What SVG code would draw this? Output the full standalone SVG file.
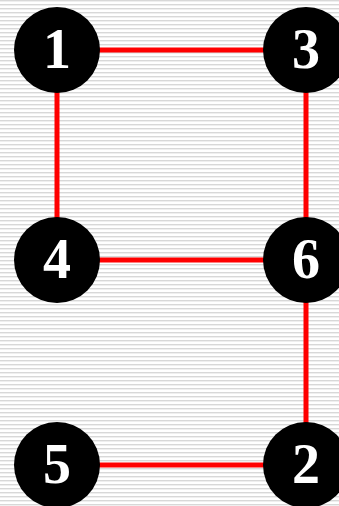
<svg xmlns="http://www.w3.org/2000/svg" width="339" height="506" viewBox="0 0 339 506">
<style>
.edge{stroke:#ff0000;stroke-width:5;fill:none}
.node circle{fill:#000}
.node text{fill:#fff;font-family:"Liberation Serif","Times New Roman",serif;font-weight:bold;font-size:56px;text-anchor:middle}
</style>
<defs>
<pattern id="stripes" width="8" height="4" patternUnits="userSpaceOnUse">
<rect width="8" height="4" fill="#ffffff"/>
<rect y="0" width="8" height="1" fill="#d8d8d8"/>
<rect y="1" width="8" height="1" fill="#efefef"/>
</pattern>
</defs>
<rect width="339" height="506" fill="url(#stripes)"/>
<g id="connectors">
<line class="edge" x1="57" y1="50" x2="306" y2="50"/>
<line class="edge" x1="57" y1="50" x2="57" y2="260"/>
<line class="edge" x1="306" y1="50" x2="306" y2="260"/>
<line class="edge" x1="57" y1="260" x2="306" y2="260"/>
<line class="edge" x1="306" y1="260" x2="306" y2="465"/>
<line class="edge" x1="57" y1="465" x2="306" y2="465"/>
</g>
<g id="node1" class="node"><circle cx="57" cy="50" r="43"/><text x="57" y="68">1</text></g>
<g id="node3" class="node"><circle cx="306" cy="50" r="43"/><text x="306" y="68">3</text></g>
<g id="node4" class="node"><circle cx="57" cy="260" r="43"/><text x="57" y="278">4</text></g>
<g id="node6" class="node"><circle cx="306" cy="260" r="43"/><text x="306" y="278">6</text></g>
<g id="node5" class="node"><circle cx="57" cy="465" r="43"/><text x="57" y="483">5</text></g>
<g id="node2" class="node"><circle cx="306" cy="465" r="43"/><text x="306" y="483">2</text></g>
</svg>
